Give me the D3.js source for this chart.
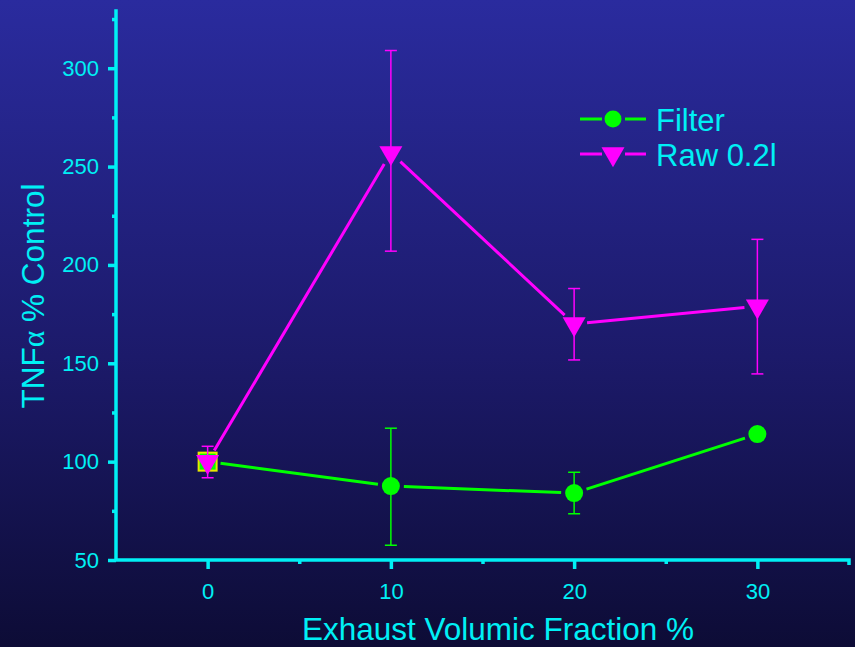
<!DOCTYPE html>
<html><head><meta charset="utf-8">
<script src="https://cdn.jsdelivr.net/npm/d3@7"></script>
<style>body{margin:0;background:#14145a}svg{display:block}</style>
</head><body>
<script>
const xValues = [0, 10, 20, 30];
const filterMean = [100, 87.6, 84, 114];
const filterLow  = [97, 57.5, 73.5, 114];
const filterHigh = [103, 117, 94.6, 114];
const rawMean = [100, 257, 170, 179];
const rawLow  = [91.8, 207, 151.7, 144.6];
const rawHigh = [107.8, 309, 188, 213];
const yTicks = [50, 100, 150, 200, 250, 300];
const yMinor = [75, 125, 175, 225, 275, 325];
const xTicks = [0, 10, 20, 30];
const xMinor = [5, 15, 25];
const seriesNames = ["Filter", "Raw 0.2l"];

const W = 855, H = 647;
const cyan = "#00f0f5", green = "#00ff00", magenta = "#ff00ff";
const font = "Liberation Sans, Arial, sans-serif";
const svg = d3.select("body").append("svg").attr("width", W).attr("height", H);
const defs = svg.append("defs");
const grad = defs.append("linearGradient").attr("id", "bg").attr("x1", 0).attr("y1", 0).attr("x2", 0).attr("y2", 1);
grad.append("stop").attr("offset", "0%").attr("stop-color", "#2a2b9e");
grad.append("stop").attr("offset", "55%").attr("stop-color", "#1c1a6a");
grad.append("stop").attr("offset", "100%").attr("stop-color", "#0d0c36");
svg.append("rect").attr("width", W).attr("height", H).attr("fill", "url(#bg)");

const x = d3.scaleLinear().domain([-5, 35]).range([116, 849]);
const y = d3.scaleLinear().domain([50, 330]).range([560, 9.2]);

// axes
const yAxis = svg.append("g").attr("transform", "translate(116,0)")
  .call(d3.axisLeft(y).tickValues(yTicks).tickSize(8).tickPadding(9));
const yAxisMinor = svg.append("g").attr("transform", "translate(116,0)")
  .call(d3.axisLeft(y).tickValues(yMinor).tickSize(4).tickFormat(""));
const xAxis = svg.append("g").attr("transform", "translate(0,560)")
  .call(d3.axisBottom(x).tickValues(xTicks).tickSize(9).tickPadding(14));
const xAxisMinor = svg.append("g").attr("transform", "translate(0,560)")
  .call(d3.axisBottom(x).tickValues(xMinor).tickSize(4).tickFormat(""));
[yAxis, yAxisMinor, xAxis, xAxisMinor].forEach(g => {
  g.attr("font-size", 22).attr("font-family", font);
  g.selectAll(".domain").attr("stroke", cyan).attr("stroke-width", 3.5);
  g.selectAll(".tick line").attr("stroke", cyan).attr("stroke-width", 3.5);
  g.selectAll(".tick text").attr("fill", cyan);
});
yAxis.select(".domain").attr("d", `M0,${y(330)}V${y(50)}`);
xAxis.select(".domain").attr("d", `M${x(-5)},0H${x(35)}V5`);
yAxisMinor.select(".domain").remove();
xAxisMinor.select(".domain").remove();

// labels
svg.append("text").attr("x", 498).attr("y", 640).attr("text-anchor", "middle")
  .attr("fill", cyan).attr("font-family", font).attr("font-size", 31.5)
  .text("Exhaust Volumic Fraction %");
const yl = svg.append("text").attr("transform", "translate(44,296) rotate(-90)").attr("text-anchor", "middle")
  .attr("fill", cyan).attr("font-family", font).attr("font-size", 31.5);
yl.append("tspan").text("TNF");
yl.append("tspan").attr("font-family", "Liberation Serif, Times New Roman, serif").text("α");
yl.append("tspan").text(" % Control");

function segs(means, gap) {
  const out = [];
  for (let i = 0; i < means.length - 1; i++) {
    const x1 = x(xValues[i]), y1 = y(means[i]), x2 = x(xValues[i + 1]), y2 = y(means[i + 1]);
    const L = Math.hypot(x2 - x1, y2 - y1), ux = (x2 - x1) / L, uy = (y2 - y1) / L;
    out.push([x1 + ux * gap, y1 + uy * gap, x2 - ux * gap, y2 - uy * gap]);
  }
  return out;
}
function errorBars(low, high, color, cap) {
  const g = svg.append("g").attr("stroke", color).attr("stroke-width", 1.5);
  xValues.forEach((v, i) => {
    if (high[i] - low[i] < 0.5) return;
    g.append("line").attr("x1", x(v)).attr("x2", x(v)).attr("y1", y(low[i])).attr("y2", y(high[i]));
    g.append("line").attr("x1", x(v) - cap).attr("x2", x(v) + cap).attr("y1", y(low[i])).attr("y2", y(low[i]));
    g.append("line").attr("x1", x(v) - cap).attr("x2", x(v) + cap).attr("y1", y(high[i])).attr("y2", y(high[i]));
  });
}

// Filter series
errorBars(filterLow, filterHigh, green, 6);
svg.append("g").selectAll("line").data(segs(filterMean, 13)).join("line")
  .attr("x1", d => d[0]).attr("y1", d => d[1]).attr("x2", d => d[2]).attr("y2", d => d[3])
  .attr("stroke", green).attr("stroke-width", 3);
// overlapped first point rendered as square marker in the reference
svg.append("rect").attr("x", x(xValues[0]) - 9).attr("y", y(filterMean[0]) - 9).attr("width", 18).attr("height", 18)
  .attr("fill", green).attr("stroke", "#e8e800").attr("stroke-width", 2);
svg.append("g").selectAll("circle").data(xValues.slice(1)).join("circle")
  .attr("cx", d => x(d)).attr("cy", (d, i) => y(filterMean[i + 1])).attr("r", 9).attr("fill", green);

// Raw series
errorBars(rawLow, rawHigh, magenta, 6);
svg.append("g").selectAll("line").data(segs(rawMean, 13)).join("line")
  .attr("x1", d => d[0]).attr("y1", d => d[1]).attr("x2", d => d[2]).attr("y2", d => d[3])
  .attr("stroke", magenta).attr("stroke-width", 3);
const tri = d3.symbol().type(d3.symbolTriangle).size(230);
svg.append("g").selectAll("path").data(xValues).join("path")
  .attr("d", tri).attr("transform", (d, i) => `translate(${x(d)},${y(rawMean[i])}) rotate(180)`)
  .attr("fill", magenta);

// legend
const leg = svg.append("g");
[[green, 119], [magenta, 154]].forEach(([c, ly], i) => {
  leg.append("line").attr("x1", 580).attr("x2", 602).attr("y1", ly).attr("y2", ly).attr("stroke", c).attr("stroke-width", 3);
  leg.append("line").attr("x1", 625).attr("x2", 646).attr("y1", ly).attr("y2", ly).attr("stroke", c).attr("stroke-width", 3);
  if (i === 0) leg.append("circle").attr("cx", 613).attr("cy", ly).attr("r", 8.5).attr("fill", c);
  else leg.append("path").attr("d", tri).attr("transform", `translate(613,${ly}) rotate(180)`).attr("fill", c);
  leg.append("text").attr("x", 656).attr("y", ly + 12).attr("fill", cyan)
    .attr("font-family", font).attr("font-size", 31).text(seriesNames[i]);
});
</script>
</body></html>
